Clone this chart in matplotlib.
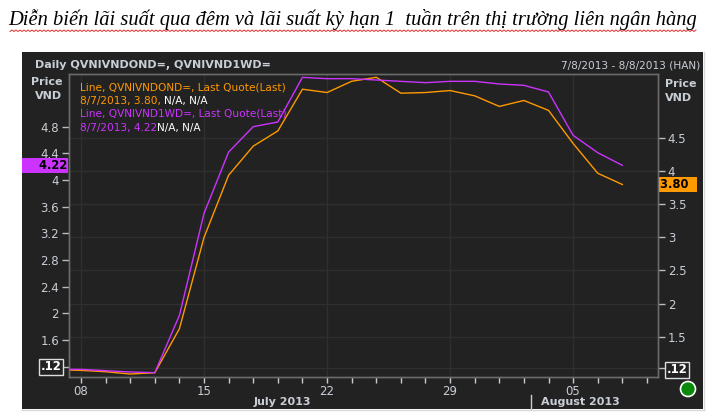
import matplotlib
matplotlib.use("Agg")
import matplotlib.pyplot as plt
from matplotlib.patches import Rectangle, Ellipse
import numpy as np

# ---------------- data ----------------
# business-day index: -1 = Jul 5, 0 = Jul 8 ... 22 = Aug 7 (2013)
day_index = list(range(-1, 23))
one_week = [1.16, 1.16, 1.14, 1.12, 1.11, 1.97, 3.50, 4.42, 4.80, 4.87,
            5.54, 5.52, 5.52, 5.50, 5.48, 5.46, 5.48, 5.48, 5.44, 5.42,
            5.32, 4.67, 4.41, 4.22]          # QVNIVND1WD= (left axis)
overnight = [1.00, 0.99, 0.97, 0.935, 0.955, 1.62, 3.00, 3.94, 4.38, 4.61,
             5.24, 5.19, 5.36, 5.42, 5.18, 5.19, 5.22, 5.14, 4.98, 5.07,
             4.92, 4.42, 3.97, 3.80]         # QVNIVNDOND= (right axis)
left_ticks = [1.6, 2.0, 2.4, 2.8, 3.2, 3.6, 4.0, 4.4, 4.8]
left_labels = ["1.6", "2", "2.4", "2.8", "3.2", "3.6", "4", "4.4", "4.8"]
right_ticks = [1.5, 2.0, 2.5, 3.0, 3.5, 4.0, 4.5]
right_labels = ["1.5", "2", "2.5", "3", "3.5", "4", "4.5"]
week_ticks = [0, 5, 10, 15, 20]
week_labels = ["08", "15", "22", "29", "05"]
n_days = 24  # Jul 8 .. Aug 8 business days

title = "Diễn biến lãi suất qua đêm và lãi suất kỳ hạn 1  tuần trên thị trường liên ngân hàng"

W, H = 724, 418
PURPLE = "#cc33ff"
ORANGE = "#ff9900"
BG = "#222222"
TXT = "#c9ced6"

fig = plt.figure(figsize=(W / 100, H / 100), dpi=100)
fig.patch.set_facecolor("white")

def fx(px):
    return px / W

def fy(py):
    return 1 - py / H

# title
t = fig.text(fx(8), fy(20), title, fontsize=14.8, style="italic",
             family="Liberation Serif", color="black", va="center", ha="left")

# dark panel
fig.patches.append(Rectangle((fx(22), fy(409)), fx(703) - fx(22), fy(52) - fy(409),
                             transform=fig.transFigure, facecolor=BG,
                             edgecolor="none", zorder=-5))
fig.lines.append(plt.Line2D([fx(22), fx(704)], [fy(409.5), fy(409.5)],
                            transform=fig.transFigure, color="#d9d9d9", lw=1, zorder=-4))
fig.lines.append(plt.Line2D([fx(703.5), fx(703.5)], [fy(52), fy(410)],
                            transform=fig.transFigure, color="#d9d9d9", lw=1, zorder=-4))

# axes
ax2 = fig.add_axes([fx(68.7), fy(377), fx(658) - fx(68.7), fy(74) - fy(377)])
ax = ax2.twinx()
ax.yaxis.set_label_position("left")
ax.yaxis.tick_left()
ax2.yaxis.tick_right()
ax2.set_facecolor(BG)
ax.patch.set_visible(False)

ax2.set_xlim(-0.5, 23.45)
ax.set_ylim(1.045, 5.59)
ax2.set_ylim(0.89, 5.47)

ax2.plot(day_index, overnight, color=ORANGE, lw=1.0, zorder=3)
ax.plot(day_index, one_week, color=PURPLE, lw=1.0, zorder=4)

for a in (ax, ax2):
    for s in a.spines.values():
        s.set_color("#6a6a6a")
        s.set_linewidth(1)

# right axis ticks + horizontal grid
ax2.set_yticks(right_ticks + [1.02])
ax2.set_yticklabels(right_labels + [""])
ax2.yaxis.grid(True, color="#2f2f2f", lw=1)
# x axis: every business day a tick, Mondays labelled
ax2.set_xticks(week_ticks)
ax2.set_xticklabels(week_labels)
ax2.set_xticks(range(n_days), minor=True)
ax2.xaxis.grid(True, which="major", color="#2f2f2f", lw=1)
ax2.tick_params(axis="x", which="both", length=4, color="#cccccc", labelcolor=TXT,
                labelsize=8.5, pad=2, width=1, bottom=True, labelbottom=True)
ax2.tick_params(axis="y", length=5, color="#bbbbbb", labelcolor=TXT,
                labelsize=8.5, pad=2, width=1)
# left axis
ax.set_yticks(left_ticks + [1.2])
ax.set_yticklabels(left_labels + [""])
ax.tick_params(axis="y", length=5, color="#bbbbbb", labelcolor=TXT,
               labelsize=8.5, pad=2, width=1)

# boxed axis labels
box_white = dict(boxstyle="square,pad=0.12", facecolor=BG, edgecolor="#dddddd", lw=1)
ax.text(-0.012, 1.2, ".12", transform=ax.get_yaxis_transform(), ha="right",
        va="center", fontsize=8.5, fontweight="bold", color="white", bbox=box_white)
ax2.text(1.014, 1.0, ".12", transform=ax2.get_yaxis_transform(), ha="left",
         va="center", fontsize=8.5, fontweight="bold", color="white", bbox=box_white)
ax.text(-0.003, one_week[-1], "    4.22", transform=ax.get_yaxis_transform(), ha="right",
        va="center", fontsize=8.3, fontweight="bold", color="black",
        bbox=dict(boxstyle="square,pad=0.08", facecolor=PURPLE, edgecolor="none"))
ax2.text(1.003, overnight[-1], "3.80  ", transform=ax2.get_yaxis_transform(), ha="left",
         va="center", fontsize=8.3, fontweight="bold", color="black",
         bbox=dict(boxstyle="square,pad=0.1", facecolor=ORANGE, edgecolor="none"))

# header texts
fig.text(fx(35), fy(65), "Daily QVNIVNDOND=, QVNIVND1WD=", fontsize=8, fontweight="bold",
         color=TXT, va="center", ha="left")
fig.text(fx(700), fy(65), "7/8/2013 - 8/8/2013 (HAN)", fontsize=7.6,
         color=TXT, va="center", ha="right")
fig.text(fx(62), fy(89), "Price\nVND", fontsize=8, fontweight="bold", color=TXT,
         va="center", ha="right", linespacing=1.45)
fig.text(fx(665), fy(91), "Price\nVND", fontsize=8, fontweight="bold", color=TXT,
         va="center", ha="left", linespacing=1.45)

# legend lines (two-colour)
renderer = fig.canvas.get_renderer()
def two_part(y, first, col, second):
    a = fig.text(fx(80), fy(y), first, fontsize=7.6, color=col, va="center", ha="left")
    if second:
        bb = a.get_window_extent(renderer)
        fig.text(bb.x1 / W, fy(y), second, fontsize=7.6, color="white",
                 va="center", ha="left")

two_part(87, "Line, QVNIVNDOND=, Last Quote(Last)", ORANGE, None)
two_part(101, "8/7/2013, 3.80, ", ORANGE, "N/A, N/A")
two_part(114, "Line, QVNIVND1WD=, Last Quote(Last)", PURPLE, None)
two_part(128, "8/7/2013, 4.22", PURPLE, "N/A, N/A")

# month labels
fig.text(fx(282), fy(402), "July 2013", fontsize=8, fontweight="bold", color=TXT,
         ha="center", va="center")
fig.text(fx(580), fy(402), "August 2013", fontsize=8, fontweight="bold", color=TXT,
         ha="center", va="center")
fig.lines.append(plt.Line2D([fx(531), fx(531)], [fy(395), fy(409)],
                            transform=fig.transFigure, color="#cccccc", lw=1))

# status dot
fig.patches.append(Ellipse((fx(688), fy(389)), 15 / W, 15 / H, transform=fig.transFigure,
                           facecolor="#0a8a0a", edgecolor="white", lw=1.2, zorder=5))

# red wavy spell-check underline under title
bb = t.get_window_extent(renderer)
xs = np.arange(bb.x0 + 2, bb.x1, 2.0)
ys = bb.y0 - 1 + np.where((np.arange(len(xs)) % 2) == 0, 0, 1.5)
fig.lines.append(plt.Line2D(xs / W, ys / H, transform=fig.transFigure,
                            color="#e03030", lw=0.7))

fig.savefig("out.png", dpi=100, facecolor="white")
